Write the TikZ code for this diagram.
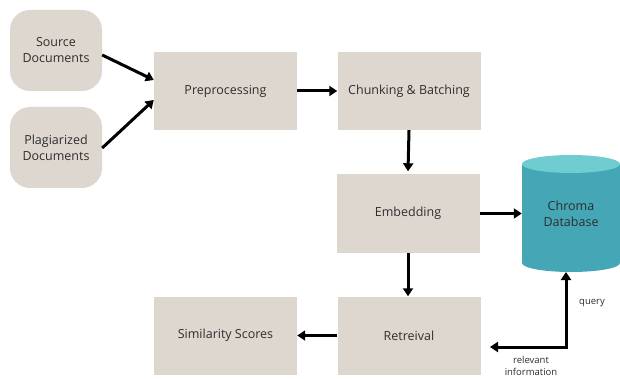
\documentclass[tikz,border=0pt]{standalone}
\usepackage{fontspec}
\setmainfont{Open Sans}
\usetikzlibrary{arrows.meta,calc}
\definecolor{boxfill}{HTML}{DDD7D0}
\definecolor{txt}{HTML}{2E2E2E}
\definecolor{dbbody}{HTML}{45A6B6}
\definecolor{dbtop}{HTML}{6FCCD1}
\tikzset{
  box/.style={fill=boxfill,draw=none,text=txt,font=\fontsize{12.5}{16}\selectfont,align=center,inner sep=0pt},
  rbox/.style={box,rounded corners=20pt,minimum width=92pt,minimum height=81pt},
  sbox/.style={box,minimum width=143pt,minimum height=78pt},
  arr/.style={line width=3pt,-{Triangle[length=8pt,width=10pt]}},
  lbl/.style={text=txt,font=\fontsize{9.5}{12}\selectfont,align=center,inner sep=0pt}
}
\begin{document}
\begin{tikzpicture}[x=1pt,y=-1pt]
\useasboundingbox[fill=white] (0,0) rectangle (620,379);
\node[rbox] (src) at (56,50.5) {Source\\Documents};
\node[rbox] (plag) at (56,147.5) {Plagiarized\\Documents};
\node[sbox] (pre) at (225.5,91) {Preprocessing};
\node[sbox] (chunk) at (409,91) {Chunking \& Batching};
\node[sbox] (emb) at (408,213.5) {Embedding};
\node[sbox] (ret) at (409,335.5) {Retreival};
\node[sbox] (sim) at (225.5,335.5) {Similarity Scores};
% cylinder
\fill[dbbody] (522,164) -- (522,263) arc[start angle=180,end angle=360,x radius=49,y radius=-9] -- (620,164) -- cycle;
\fill[dbtop] (571,164) ellipse[x radius=49,y radius=9];
\node[box,fill=none,minimum width=98pt,minimum height=117pt] (db) at (571,213.5) {Chroma\\Database};
\coordinate (qtop) at (566,272);
\coordinate (qcorner) at (566,347);
\coordinate (qleft) at (490,347);
% arrows
\draw[arr] ($(src.east)+(0,4.5)$) -- ($(pre.west)+(0,-11)$);
\draw[arr] ($(plag.east)+(0,0.5)$) -- ($(pre.west)+(0,9)$);
\draw[arr] (pre.east) -- (chunk.west);
\draw[arr] (chunk.south) -- ($(emb.north)+(0,-3)$);
\draw[arr] (emb.east) -- (db.west);
\draw[arr] (emb.south) -- (emb.south |- ret.north);
\draw[arr] (ret.west) -- (sim.east);
\draw[line width=3pt,{Triangle[length=8pt,width=10pt]}-{Triangle[length=8pt,width=10pt]}] (qleft) -- (qcorner) -- (qtop);
\node[lbl] (q) at (592,303) {query};
\node[lbl] (ri) at (531,366) {relevant\\information};
\end{tikzpicture}
\end{document}
